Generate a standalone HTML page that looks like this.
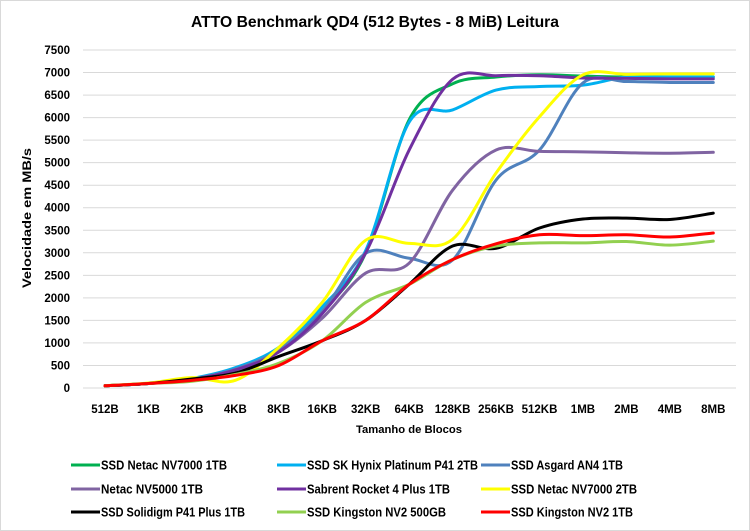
<!DOCTYPE html>
<html><head><meta charset="utf-8"><style>
html,body{margin:0;padding:0;background:#fff}
svg{display:block}
text{font-family:"Liberation Sans",Arial,sans-serif;font-weight:bold;fill:#000}
</style></head><body>
<svg id="c" width="750" height="531" viewBox="0 0 750 531" xmlns="http://www.w3.org/2000/svg">
<rect x="0.5" y="0.5" width="749" height="530" fill="#fff" stroke="#d9d9d9"/>
<text x="375" y="27" font-size="16" text-anchor="middle" textLength="368" lengthAdjust="spacingAndGlyphs">ATTO Benchmark QD4 (512 Bytes - 8 MiB) Leitura</text>
<g id="grid"></g>
<g id="lines" fill="none" stroke-width="3" stroke-linejoin="round" stroke-linecap="round"></g>
<text transform="translate(31,218) rotate(-90)" font-size="12" text-anchor="middle" textLength="140" lengthAdjust="spacingAndGlyphs">Velocidade em MB/s</text>
<text x="409" y="433" font-size="11" text-anchor="middle" textLength="106" lengthAdjust="spacingAndGlyphs">Tamanho de Blocos</text>
<g id="leg"></g>
</svg>
<script>
var NS="http://www.w3.org/2000/svg";
function el(t,a,p,txt){var e=document.createElementNS(NS,t);for(var k in a)e.setAttribute(k,a[k]);if(txt!=null)e.textContent=txt;p.appendChild(e);return e;}
var grid=document.getElementById('grid');
function Y(v){return 388-v*338/7500;}
function X(i){return 105+43.45*i;}
for(var v=0;v<=7500;v+=500){
 el('line',{x1:83,x2:736,y1:Y(v),y2:Y(v),stroke:'#d9d9d9','stroke-width':1},grid);
 el('text',{x:70,y:Y(v)+4,'font-size':11.5,'text-anchor':'end'},grid,String(v));
}
var cats=["512B","1KB","2KB","4KB","8KB","16KB","32KB","64KB","128KB","256KB","512KB","1MB","2MB","4MB","8MB"];
cats.forEach(function(c,i){el('text',{x:X(i),y:413,'font-size':11.5,'text-anchor':'middle'},grid,c);});
var S=[
["SSD Netac NV7000 1TB","#00b050",[50,100,200,400,850,1700,3000,5950,6750,6900,6950,6920,6900,6900,6900],126],
["SSD SK Hynix Platinum P41 2TB","#00b0f0",[50,100,210,450,900,1800,3050,5900,6170,6610,6690,6720,6900,6900,6900],171],
["SSD Asgard AN4 1TB","#4f81bd",[50,100,200,420,850,1700,2990,2880,2840,4615,5280,6770,6800,6780,6780],112],
["Netac NV5000 1TB","#8064a2",[50,100,190,400,800,1550,2550,2770,4390,5280,5250,5240,5220,5210,5230],102],
["Sabrent Rocket 4 Plus 1TB","#7030a0",[50,100,190,400,800,1650,3000,5280,6850,6930,6930,6880,6870,6860,6860],143],
["SSD Netac NV7000 2TB","#ffff00",[50,110,230,170,900,1900,3280,3210,3300,4770,6020,6950,6960,6970,6970],126],
["SSD Solidigm P41 Plus 1TB","#000000",[50,100,200,330,700,1050,1500,2300,3150,3100,3550,3750,3770,3740,3880],144],
["SSD Kingston NV2 500GB","#92d050",[50,100,150,300,550,1050,1900,2300,2850,3150,3220,3220,3250,3170,3260],139],
["SSD Kingston NV2 1TB","#ff0000",[50,100,170,280,500,1050,1500,2300,2850,3200,3400,3380,3400,3350,3440],122]
];
var lines=document.getElementById('lines'),leg=document.getElementById('leg');
S.forEach(function(s,idx){
 var p=s[2].map(function(v,i){return [X(i),Y(v)];});
 var d="M"+p[0][0]+","+p[0][1];
 for(var i=0;i<p.length-1;i++){
  var p0=p[i-1]||p[i],p1=p[i],p2=p[i+1],p3=p[i+2]||p2,t=6;
  d+=" C"+(p1[0]+(p2[0]-p0[0])/t)+","+(p1[1]+(p2[1]-p0[1])/t)+" "+(p2[0]-(p3[0]-p1[0])/t)+","+(p2[1]-(p3[1]-p1[1])/t)+" "+p2[0]+","+p2[1];
 }
 el('path',{d:d,stroke:s[1]},lines);
 var col=idx%3,row=Math.floor(idx/3);
 var lx=[71,277,481][col],ly=[465,489,512][row];
 el('line',{x1:lx,x2:lx+29,y1:ly,y2:ly,stroke:s[1],'stroke-width':3},leg);
 el('text',{x:lx+30,y:ly+4.5,'font-size':12.5,textLength:s[3],lengthAdjust:'spacingAndGlyphs'},leg,s[0]);
});
</script>
</body></html>
